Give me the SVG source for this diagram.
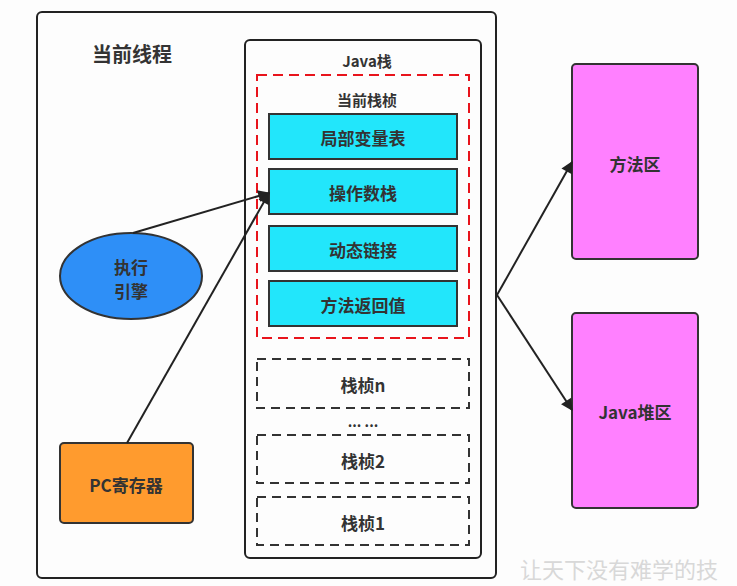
<svg xmlns="http://www.w3.org/2000/svg" width="737" height="586" viewBox="0 0 737 586">
<defs>
<style>
text{font-family:"Noto Sans CJK SC","Liberation Sans",sans-serif;fill:#333;text-anchor:middle;dominant-baseline:central}
.b{font-weight:bold}
.box{stroke:#333;stroke-width:2}
.frame{fill:none;stroke:#222;stroke-width:2}
.cyan{fill:#22e6fb;stroke:#333;stroke-width:2}
.gdash{fill:none;stroke:#333;stroke-width:2;stroke-dasharray:9 6}
.conn{fill:none;stroke:#222;stroke-width:2}
</style>
<marker id="ah" viewBox="0 0 10 10" refX="9" refY="5" markerWidth="14" markerHeight="12" orient="auto" markerUnits="userSpaceOnUse">
<path d="M0,0 L10,5 L0,10 z" fill="#222"/>
</marker>
</defs>
<rect width="737" height="586" fill="#fdfdfd"/>
<g id="thread">
<rect x="37" y="12" width="459" height="566" rx="5" class="frame"/>
<text x="132" y="53" font-size="20" class="b">当前线程</text>
</g>
<g id="javastack">
<rect x="245" y="40" width="236" height="518" rx="5" class="frame"/>
<text x="367" y="60" font-size="15" class="b">Java栈</text>
</g>
<g id="curframe">
<rect x="257" y="75" width="212" height="263" fill="none" stroke="#e8141c" stroke-width="2" stroke-dasharray="10 6"/>
<text x="367" y="99" font-size="15" class="b">当前栈桢</text>
</g>
<g id="locals"><rect x="269" y="114" width="188" height="45" class="cyan"/><text x="363" y="137" font-size="17" class="b">局部变量表</text></g>
<g id="opstack"><rect x="269" y="169" width="188" height="45" class="cyan"/><text x="363" y="192" font-size="17" class="b">操作数栈</text></g>
<g id="dynlink"><rect x="269" y="226" width="188" height="45" class="cyan"/><text x="363" y="249" font-size="17" class="b">动态链接</text></g>
<g id="retval"><rect x="269" y="281" width="188" height="45" class="cyan"/><text x="363" y="304" font-size="17" class="b">方法返回值</text></g>
<g id="frameN"><rect x="257" y="359" width="212" height="49" class="gdash"/><text x="363" y="384" font-size="17" class="b">栈桢n</text></g>
<g id="dots"><text x="363" y="421" font-size="14" class="b">... ...</text></g>
<g id="frame2"><rect x="257" y="435" width="212" height="48" class="gdash"/><text x="363" y="460" font-size="17" class="b">栈桢2</text></g>
<g id="frame1"><rect x="257" y="497" width="212" height="48" class="gdash"/><text x="363" y="522" font-size="17" class="b">栈桢1</text></g>
<g id="engine">
<ellipse cx="131" cy="276" rx="71" ry="43" fill="#2e8ff7" class="box"/>
<text x="131" y="266" font-size="17" class="b">执行</text>
<text x="131" y="290" font-size="17" class="b">引擎</text>
</g>
<g id="pc">
<rect x="60" y="443" width="133" height="80" rx="4" fill="#ff9b2e" class="box"/>
<text x="126" y="484" font-size="17" class="b">PC寄存器</text>
</g>
<g id="methodarea">
<rect x="572" y="64" width="126" height="195" rx="4" fill="#ff80ff" class="box"/>
<text x="635" y="163" font-size="17" class="b">方法区</text>
</g>
<g id="heap">
<rect x="572" y="313" width="126" height="195" rx="4" fill="#ff80ff" class="box"/>
<text x="635" y="411" font-size="17" class="b">Java堆区</text>
</g>
<g id="connectors">
<line x1="133" y1="233" x2="269" y2="193" class="conn" marker-end="url(#ah)"/>
<line x1="127" y1="443" x2="269" y2="193" class="conn" marker-end="url(#ah)"/>
<line x1="497" y1="295" x2="572" y2="162" class="conn" marker-end="url(#ah)"/>
<line x1="497" y1="295" x2="572" y2="410" class="conn" marker-end="url(#ah)"/>
</g>
<text x="520" y="568" font-size="22" style="fill:#d8d8d8;text-anchor:start">让天下没有难学的技</text>
</svg>
